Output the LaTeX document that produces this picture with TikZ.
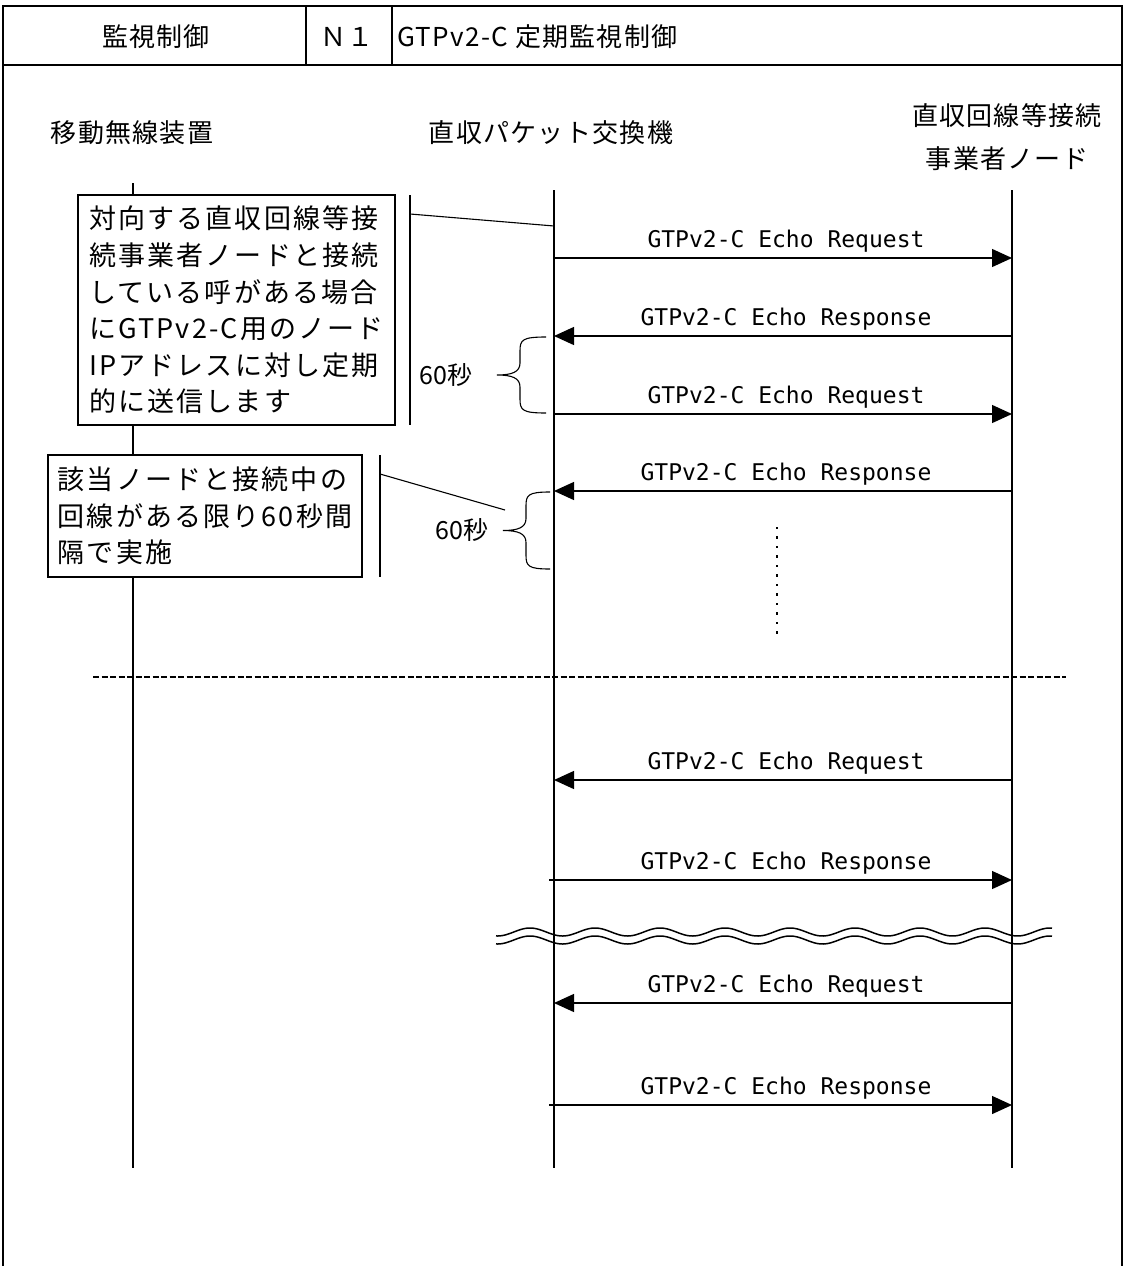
\documentclass[tikz,border=0pt]{standalone}
\usepackage{fontspec}
\setmainfont{Noto Sans CJK JP}
\newfontfamily\jp{Noto Sans CJK JP}
\newfontfamily\jpls[LetterSpace=8]{Noto Sans CJK JP}
\newfontfamily\jphd[LetterSpace=5]{Noto Sans CJK JP}
\newfontfamily\mono{DejaVu Sans Mono}
\usetikzlibrary{arrows.meta,calc}
\tikzset{
  frame/.style={line width=2pt},
  life/.style={line width=1.3pt},
  msg/.style={line width=1.3pt, -{Triangle[length=20pt,width=18pt]}},
  lbl/.style={font=\mono\fontsize{23}{23}\selectfont, anchor=base, inner sep=0pt},
  note/.style={draw, line width=1.5pt, fill=white, align=left, inner sep=0pt,
    font=\jpls\fontsize{27}{36.6}\selectfont},
  hdr/.style={font=\jphd\fontsize{26}{43}\selectfont, align=center, inner sep=0pt},
  title/.style={font=\jphd\fontsize{26}{26}\selectfont, inner sep=0pt},
  secs/.style={font=\jp\fontsize{25}{25}\selectfont, inner sep=0pt},
  bar/.style={line width=1.3pt},
  lead/.style={line width=1.1pt},
  bracestyle/.style={line width=1.1pt},
}
\newcommand\MsgR[4]{% y, label, name, startx
  \coordinate (#3a) at (#4,#1);
  \coordinate (#3b) at (1012,#1);
  \draw[msg] (#3a) -- (#3b);
  \node[lbl] (#3l) at (786,#1-11) {#2};
}
\newcommand\MsgL[3]{% y, label, name
  \coordinate (#3a) at (1012,#1);
  \coordinate (#3b) at (554,#1);
  \draw[msg] (#3a) -- (#3b);
  \node[lbl] (#3l) at (786,#1-11) {#2};
}
\newcommand\BracePath[5]{% xend, xstem, xtip, ytop, ybot
  \draw[bracestyle] (#1,#4) .. controls ({#2+2},#4) and (#2,{#4+3}) .. (#2,{#4+14})
    -- (#2,{(#4+#5)/2-12}) .. controls (#2,{(#4+#5)/2-3}) and ({#2-8},{(#4+#5)/2}) .. (#3,{(#4+#5)/2})
    .. controls ({#2-8},{(#4+#5)/2}) and (#2,{(#4+#5)/2+3}) .. (#2,{(#4+#5)/2+12})
    -- (#2,{#5-14}) .. controls (#2,{#5-3}) and ({#2+2},#5) .. (#1,#5);
}
\begin{document}
\begin{tikzpicture}[x=1pt,y=-1pt]
\useasboundingbox (0,0) rectangle (1125,1266);
% frame and header
\draw[frame] (3,1266) -- (3,6) -- (1122,6) -- (1122,1266);
\draw[frame] (3,65) -- (1122,65);
\draw[frame] (306,6) -- (306,65);
\draw[frame] (392,6) -- (392,65);
\node[title] (t1) at (156,37) {監視制御};
\node[title] (t2) at (347,37) {Ｎ１};
\node[title, anchor=west] (t3) at (397,37) {GTPv2-C 定期監視制御};
% lifeline heads
\node[hdr] (hA) at (132,133) {移動無線装置};
\node[hdr] (hB) at (551,133) {直収パケット交換機};
\node[hdr] (hC) at (1007,137) {直収回線等接続\\事業者ノード};
% lifelines
\coordinate (A0) at (133,183); \coordinate (A1) at (133,1168);
\coordinate (B0) at (554,190); \coordinate (B1) at (554,1168);
\coordinate (C0) at (1012,190); \coordinate (C1) at (1012,1168);
\draw[life] (A0) -- (A1);
\draw[life] (B0) -- (B1);
\draw[life] (C0) -- (C1);
% notes
\node[note, minimum width=317pt, minimum height=230pt] (n1) at (236.5,310)
  {対向する直収回線等接\\続事業者ノードと接続\\している呼がある場合\\にGTPv2-C用のノード\\IPアドレスに対し定期\\的に送信します};
\node[note, minimum width=314pt, minimum height=122pt] (n2) at (205,516)
  {該当ノードと接続中の\\回線がある限り60秒間\\隔で実施};
\coordinate (v1a) at (410,195); \coordinate (v1b) at (410,425);
\draw[bar] (v1a) -- (v1b);
\coordinate (v2a) at (380,455); \coordinate (v2b) at (380,577);
\draw[bar] (v2a) -- (v2b);
\coordinate (l1a) at (410,214); \coordinate (l1b) at (554,226);
\draw[lead] (l1a) -- (l1b);
\coordinate (l2a) at (380,474); \coordinate (l2b) at (505,510);
\draw[lead] (l2a) -- (l2b);
% messages
\MsgR{258}{GTPv2-C Echo Request}{m1}{554}
\MsgL{336}{GTPv2-C Echo Response}{m2}
\MsgR{414}{GTPv2-C Echo Request}{m3}{554}
\MsgL{491}{GTPv2-C Echo Response}{m4}
\MsgL{780}{GTPv2-C Echo Request}{m5}
\MsgR{880}{GTPv2-C Echo Response}{m6}{549}
\MsgL{1003}{GTPv2-C Echo Request}{m7}
\MsgR{1105}{GTPv2-C Echo Response}{m8}{549}
% braces
\BracePath{546}{520}{497}{337}{413}
\BracePath{550}{526}{503}{492}{569}
\node[secs] (s1) at (446,375) {60秒};
\node[secs] (s2) at (462,530) {60秒};
% dots
\foreach \i in {0,...,11} \fill (775.8,{526.8+9.5*\i}) rectangle ++(2.4,2.4);
% dashed separator
\coordinate (d0) at (93,677); \coordinate (d1) at (1066,677);
\draw[line width=1.2pt, dash pattern=on 6pt off 2.5pt] (d0) -- (d1);
% wavy break
\draw[line width=1.5pt] plot[domain=496:1052, samples=300, smooth] (\x,{932-4*cos(5.53846*(\x-530))});
\draw[line width=1.5pt] plot[domain=496:1052, samples=300, smooth] (\x,{940-4*cos(5.53846*(\x-530))});
\end{tikzpicture}
\end{document}
